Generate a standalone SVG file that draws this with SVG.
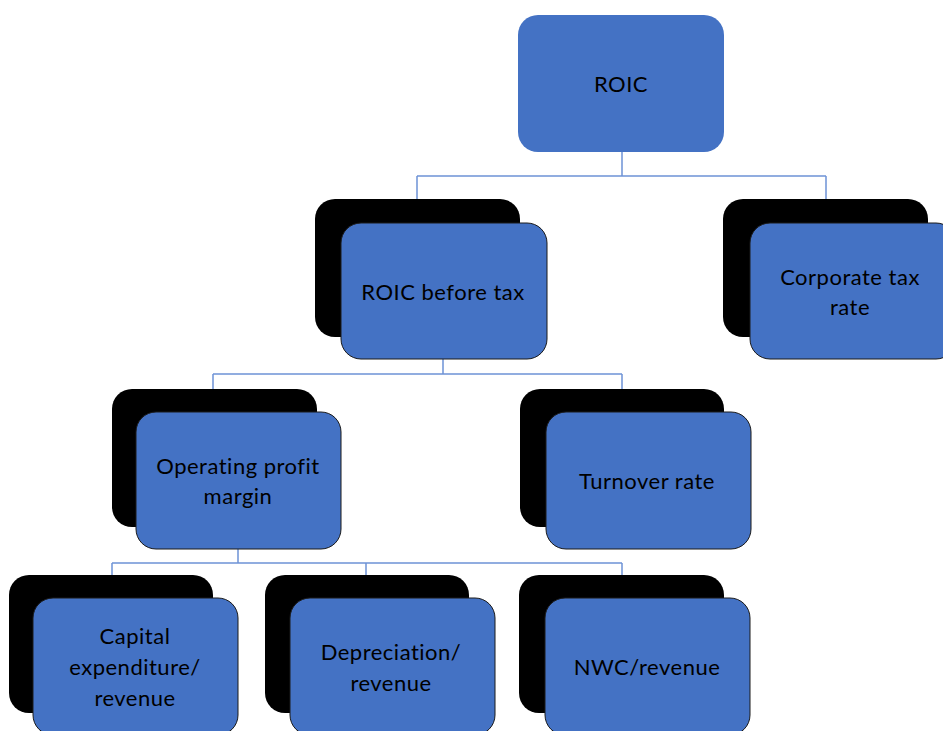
<svg xmlns="http://www.w3.org/2000/svg" width="943" height="731" viewBox="0 0 943 731">
<style>
.sh{fill:#000;}
.bx{fill:#4472C4;stroke:#1a1a1a;stroke-width:1;}
.top{fill:#4472C4;stroke:none;}
.t{font-family:Lato,"Liberation Sans",sans-serif;font-size:22px;letter-spacing:0.5px;fill:#000;text-anchor:middle;}
.c{fill:none;stroke:#6E93D6;stroke-width:1.5;}
</style>
<rect width="943" height="731" fill="#fff"/>
<g id="connectors">
<path class="c" d="M622 152 V176 M417 176 H826 M417 176 V199 M826 176 V199"/>
<path class="c" d="M443 359 V374 M213 374 H622 M213 374 V389 M622 374 V389"/>
<path class="c" d="M238 549 V563 M112 563 H622 M112 563 V575 M366 563 V575 M622 563 V575"/>
</g>
<g id="roic">
<rect class="top" x="518" y="15" width="206" height="137" rx="20"/>
<text class="t" x="621" y="92">ROIC</text>
</g>
<g id="roic-before-tax">
<rect class="sh" x="315" y="199" width="205" height="138" rx="20"/>
<rect class="bx" x="341" y="223" width="206" height="136" rx="20"/>
<text class="t" x="443" y="300">ROIC before tax</text>
</g>
<g id="corporate-tax-rate">
<rect class="sh" x="723" y="199" width="205" height="138" rx="20"/>
<rect class="bx" x="750" y="223" width="206" height="136" rx="20"/>
<text class="t" x="850" y="285">Corporate tax</text>
<text class="t" x="850" y="315">rate</text>
</g>
<g id="operating-profit-margin">
<rect class="sh" x="112" y="389" width="205" height="138" rx="20"/>
<rect class="bx" x="136" y="412" width="205" height="137" rx="20"/>
<text class="t" x="238" y="474">Operating profit</text>
<text class="t" x="238" y="504">margin</text>
</g>
<g id="turnover-rate">
<rect class="sh" x="520" y="389" width="204" height="138" rx="20"/>
<rect class="bx" x="546" y="412" width="205" height="137" rx="20"/>
<text class="t" x="647" y="489">Turnover rate</text>
</g>
<g id="capex-revenue">
<rect class="sh" x="9" y="575" width="204" height="138" rx="20"/>
<rect class="bx" x="33" y="598" width="205" height="137" rx="20"/>
<text class="t" x="135" y="644">Capital</text>
<text class="t" x="135" y="675">expenditure/</text>
<text class="t" x="135" y="706">revenue</text>
</g>
<g id="depreciation-revenue">
<rect class="sh" x="265" y="575" width="204" height="138" rx="20"/>
<rect class="bx" x="290" y="598" width="205" height="137" rx="20"/>
<text class="t" x="391" y="660">Depreciation/</text>
<text class="t" x="391" y="691">revenue</text>
</g>
<g id="nwc-revenue">
<rect class="sh" x="519" y="575" width="205" height="138" rx="20"/>
<rect class="bx" x="545" y="598" width="205" height="137" rx="20"/>
<text class="t" x="647" y="675">NWC/revenue</text>
</g>
</svg>
